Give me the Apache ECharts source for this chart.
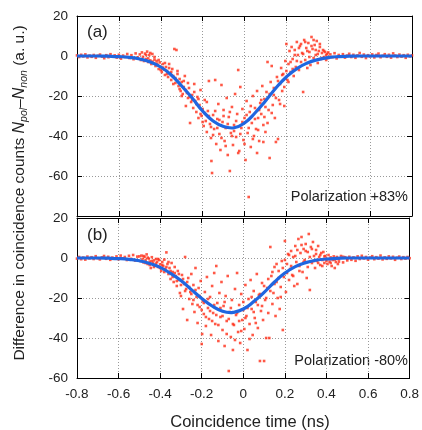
<!DOCTYPE html>
<html>
<head>
<meta charset="utf-8">
<script src="https://cdn.jsdelivr.net/npm/echarts@6/dist/echarts.min.js"></script>
<style>
    html, body { margin: 0; padding: 0; background: #fff; }
    #chart { width: 422px; height: 430px; }
</style>
</head>
<body>
<div id="chart"></div>
<script>
// x tick values (ns)
var timeTicks = [-0.8, -0.6, -0.4, -0.2, 0, 0.2, 0.4, 0.6, 0.8];

// fitted curves
var fitA = [
    [-0.8, 0], [-0.75, 0], [-0.7, 0], [-0.65, -0.1], [-0.6, -0.3], [-0.55, -0.7], [-0.5, -1.5],
    [-0.45, -3.0], [-0.4, -5.5], [-0.35, -9.5], [-0.3, -15], [-0.25, -21], [-0.2, -27.5],
    [-0.15, -32.5], [-0.1, -35.3], [-0.06, -36], [-0.05, -35.9], [0, -33.5], [0.05, -28.5],
    [0.1, -22.5], [0.15, -16], [0.2, -10.5], [0.25, -6.3], [0.3, -3.5], [0.35, -1.8],
    [0.4, -0.8], [0.45, -0.3], [0.5, -0.1], [0.55, 0], [0.6, 0], [0.7, 0], [0.8, 0]
];
var fitB = [
    [-0.8, 0], [-0.75, 0], [-0.7, 0], [-0.65, -0.1], [-0.6, -0.3], [-0.55, -0.7], [-0.5, -1.4],
    [-0.45, -2.7], [-0.4, -4.7], [-0.35, -7.7], [-0.3, -11.3], [-0.25, -15.8], [-0.2, -20.2],
    [-0.15, -24], [-0.1, -26.6], [-0.06, -27.3], [-0.05, -27.2], [0, -25.5], [0.05, -21.8],
    [0.1, -17.2], [0.15, -12], [0.2, -7.5], [0.25, -4.3], [0.3, -2.3], [0.35, -1.1],
    [0.4, -0.5], [0.45, -0.2], [0.5, 0], [0.6, 0], [0.7, 0], [0.8, 0]
];

// measured points, panel (a)
var pointsA = [
    [-0.80,0.3],[-0.79,-0.5],[-0.78,0.6],[-0.77,-0.2],[-0.76,0.8],[-0.75,-0.7],[-0.74,0.2],[-0.73,-0.4],
    [-0.72,0.5],[-0.71,-0.9],[-0.70,0.1],[-0.69,0.7],[-0.68,-0.3],[-0.67,-1.1],[-0.66,0.4],[-0.65,-0.6],
    [-0.64,0.9],[-0.63,-0.2],[-0.62,0.3],[-0.61,-0.8],[-0.60,0.6],[-0.59,-1.3],[-0.58,0.2],[-0.57,-0.5],
    [-0.56,1.0],[-0.55,-1.0],[-0.54,0.4],[-0.53,-1.6],[-0.52,1.3],[-0.51,-0.7],[-0.50,0.8],[-0.495,-2.0],
    [-0.49,1.8],[-0.485,-0.4],[-0.48,-2.5],[-0.475,1.2],[-0.47,-1.5],[-0.465,2.2],[-0.46,-3.0],[-0.455,0.5],
    [-0.45,-2.2],[-0.445,-4.0],[-0.44,1.0],[-0.435,-3.5],[-0.43,-1.8],[-0.425,-5.0],[-0.42,-2.5],[-0.415,-4.5],
    [-0.41,-6.5],[-0.405,-3.2],[-0.40,-5.5],[-0.395,-8.0],[-0.39,-4.0],[-0.385,-6.8],[-0.38,-9.5],[-0.375,-5.5],
    [-0.37,-7.5],[-0.365,-10.5],[-0.36,-4.0],[-0.355,-8.8],[-0.35,-12.0],[-0.345,-6.5],[-0.34,-10.0],[-0.335,3.5],
    [-0.33,-13.5],[-0.325,3.0],[-0.32,-9.0],[-0.315,-15.0],[-0.31,-11.5],[-0.305,-17.5],[-0.30,-13.0],[-0.295,-19.0],
    [-0.29,-15.5],[-0.285,-10.0],[-0.28,-25.0],[-0.275,-18.5],[-0.27,-21.0],[-0.265,-16.0],[-0.26,-33.5],[-0.255,-23.0],
    [-0.25,-19.5],[-0.245,-26.0],[-0.24,-14.0],[-0.235,-22.5],[-0.23,-28.0],[-0.225,-20.5],[-0.22,-31.0],[-0.215,-24.5],
    [-0.21,-17.0],[-0.205,-30.0],[-0.20,-26.5],[-0.195,-35.0],[-0.19,-22.0],[-0.185,-32.5],[-0.18,-38.0],[-0.175,-27.5],
    [-0.17,-12.5],[-0.165,-34.0],[-0.16,-41.0],[-0.158,-52.5],[-0.155,-58.5],[-0.15,-29.5],[-0.145,-36.5],[-0.14,-12.0],
    [-0.135,-44.0],[-0.13,-31.5],[-0.125,-24.0],[-0.12,-39.0],[-0.115,-47.0],[-0.11,-14.5],[-0.105,-33.0],[-0.10,-27.0],
    [-0.095,-42.5],[-0.09,-36.0],[-0.085,-21.0],[-0.08,-49.5],[-0.075,-30.5],[-0.07,-57.5],[-0.065,-38.5],[-0.06,-25.5],
    [-0.055,-44.5],[-0.05,-34.5],[-0.045,-19.0],[-0.04,-40.5],[-0.035,-29.0],[-0.03,-7.0],[-0.025,-47.5],[-0.02,-15.5],
    [-0.015,-36.0],[-0.01,-26.5],[-0.005,-42.0],[0.00,-31.0],[0.005,-52.0],[0.01,-22.5],[0.015,-38.5],[0.02,-70.5],
    [0.025,-28.0],[0.03,-45.5],[0.035,-33.5],[0.04,-20.0],[0.045,-40.0],[0.05,-26.0],[0.055,-36.5],[0.06,-17.5],
    [0.065,-31.0],[0.07,-42.5],[0.075,-23.5],[0.08,-29.0],[0.085,-15.0],[0.09,-34.5],[0.095,-21.5],[0.10,-38.0],
    [0.105,-18.0],[0.11,-3.0],[0.115,-27.0],[0.12,-51.0],[0.125,-13.0],[0.13,-5.0],[0.135,-24.5],[0.14,-19.5],
    [0.145,-31.0],[0.15,-43.0],[0.155,-10.5],[0.16,-41.5],[0.165,-22.0],[0.17,-14.0],[0.175,-6.0],[0.18,-17.5],
    [0.185,-9.0],[0.19,-25.0],[0.195,-2.5],[0.20,6.0],[0.205,-12.0],[0.21,-4.0],[0.215,2.5],[0.22,-8.0],
    [0.225,4.5],[0.23,-1.5],[0.235,-10.0],[0.24,3.0],[0.245,-5.5],[0.25,7.0],[0.255,0.5],[0.26,-7.0],
    [0.265,5.0],[0.27,-3.0],[0.275,1.5],[0.28,-18.0],[0.285,8.0],[0.29,-2.0],[0.295,4.0],[0.30,-6.0],
    [0.305,6.5],[0.31,2.0],[0.315,-4.5],[0.32,9.5],[0.325,3.5],[0.33,-1.0],[0.335,5.5],[0.34,0.5],
    [0.345,7.5],[0.35,-3.5],[0.355,2.5],[0.36,4.5],[0.365,-1.5],[0.37,1.5],[0.375,3.0],[0.38,-0.5],
    [0.385,2.0],[0.39,-2.0],[0.395,1.0],[0.40,-1.0],[0.41,0.8],[0.42,-0.6],[0.43,1.4],[0.44,-1.2],
    [0.45,0.5],[0.46,-0.3],[0.47,0.9],[0.48,-0.8],[0.49,0.2],[0.50,1.1],[0.51,-0.5],[0.52,0.6],
    [0.53,-0.9],[0.54,0.3],[0.55,1.5],[0.56,-0.4],[0.57,0.7],[0.58,-1.0],[0.59,0.4],[0.60,-0.2],
    [0.61,0.8],[0.62,-0.7],[0.63,0.5],[0.64,1.2],[0.65,-0.6],[0.66,0.1],[0.67,0.9],[0.68,-0.4],
    [0.69,0.6],[0.70,-0.8],[0.71,1.3],[0.72,0.2],[0.73,-0.5],[0.74,0.7],[0.75,-0.3],[0.76,0.4],
    [0.77,-0.9],[0.78,0.6],[0.79,-0.2],[0.80,0.3],
    [-0.47,0.5],[-0.46,-1.2],[-0.45,1.5],[-0.44,-2.8],[-0.43,-0.5],[-0.42,-3.8],[-0.41,-2.0],[-0.40,-7.0],
    [-0.39,-5.8],[-0.38,-3.5],[-0.37,-9.0],[-0.36,-6.0],[-0.35,-8.0],[-0.34,-14.0],[-0.33,-11.0],[-0.32,-7.5],
    [-0.31,-16.5],[-0.30,-20.0],[-0.29,-12.5],[-0.28,-17.0],[-0.27,-13.5],[-0.26,-20.5],[-0.25,-22.0],[-0.24,-18.0],
    [-0.23,-24.0],[-0.22,-21.5],[-0.21,-29.0],[-0.20,-33.0],[-0.19,-28.5],[-0.18,-23.0],[-0.17,-30.0],[-0.16,-35.5],
    [-0.15,-39.5],[-0.14,-27.5],[-0.13,-36.0],[-0.12,-32.0],[-0.11,-41.0],[-0.10,-30.0],[-0.09,-45.0],[-0.08,-34.0],
    [-0.07,-28.0],[-0.06,-40.0],[-0.05,-37.5],[-0.04,-32.5],[-0.03,-48.5],[-0.02,-39.0],[-0.01,-33.0],[0.00,-44.0],
    [0.01,-29.5],[0.02,-36.0],[0.03,-25.0],[0.04,-41.5],[0.05,-31.5],[0.06,-48.5],[0.065,-37.0],[0.07,-27.0],
    [0.08,-22.0],[0.09,-43.0],[0.095,-30.5],[0.10,-25.5],[0.11,-33.5],[0.12,-19.0],[0.13,-28.5],[0.14,-16.0],
    [0.15,-21.0],[0.16,-12.5],[0.17,-24.0],[0.18,-9.5],[0.19,-15.5],[0.20,-7.5],[0.21,-13.0],[0.22,-3.0],
    [0.23,-6.5],[0.24,0.5],[0.25,-2.5],[0.26,4.0],[0.27,6.0],[0.28,1.0],[0.29,7.0],[0.30,2.5],
    [0.31,-0.5],[0.32,5.0],[0.33,8.0],[0.34,3.0],[0.35,1.0],[0.36,6.0],[0.37,-1.0],[0.38,2.5],
    [0.39,0.5],[0.40,1.8]
];

// measured points, panel (b)
var pointsB = [
    [-0.80,-0.3],[-0.79,0.5],[-0.78,-0.6],[-0.77,0.2],[-0.76,-0.8],[-0.75,0.7],[-0.74,-0.2],[-0.73,0.4],
    [-0.72,-0.5],[-0.71,0.9],[-0.70,-0.1],[-0.69,-0.7],[-0.68,0.3],[-0.67,1.0],[-0.66,-0.4],[-0.65,0.6],
    [-0.64,-0.9],[-0.63,0.2],[-0.62,-0.3],[-0.61,0.8],[-0.60,-0.6],[-0.59,1.2],[-0.58,-0.2],[-0.57,0.5],
    [-0.56,-1.0],[-0.55,1.1],[-0.54,-0.4],[-0.53,1.5],[-0.52,-1.3],[-0.51,0.7],
    [-0.50,0.8],[-0.495,-1.5],[-0.49,1.2],[-0.485,-0.5],[-0.48,-2.2],[-0.475,0.6],[-0.47,-1.0],[-0.465,1.8],
    [-0.46,-3.0],[-0.455,-0.3],[-0.45,-1.8],[-0.445,-5.0],[-0.44,0.4],[-0.435,-2.5],[-0.43,-1.2],[-0.425,-3.8],
    [-0.42,-0.5],[-0.415,-2.0],[-0.41,-4.5],[-0.405,-1.0],[-0.40,-3.2],[-0.395,-6.5],[-0.39,-2.0],[-0.385,-4.0],
    [-0.38,-0.8],[-0.375,-5.5],[-0.37,2.8],[-0.365,-3.0],[-0.36,-8.0],[-0.355,-5.0],[-0.35,-10.5],[-0.345,-2.5],
    [-0.34,-7.0],[-0.335,-12.0],[-0.33,-4.5],[-0.325,-9.0],[-0.32,-14.0],[-0.315,-6.5],[-0.31,-11.0],[-0.305,-17.5],
    [-0.30,-19.0],[-0.295,-8.5],[-0.29,-25.5],[-0.285,-13.0],[-0.28,0.5],[-0.275,-15.5],[-0.27,-31.0],[-0.265,-10.0],
    [-0.26,-20.5],[-0.255,-17.0],[-0.25,-8.0],[-0.245,-23.0],[-0.24,-13.5],[-0.235,-27.0],[-0.23,-5.0],[-0.225,-19.5],
    [-0.22,-32.5],[-0.215,-15.0],[-0.21,-24.5],[-0.205,-11.5],[-0.20,-43.0],[-0.198,-38.0],[-0.195,-21.5],[-0.19,-28.0],
    [-0.185,-17.0],[-0.18,-34.0],[-0.175,-9.5],[-0.17,-25.0],[-0.165,-30.5],[-0.16,-19.5],[-0.155,-38.5],[-0.15,-14.0],
    [-0.145,-27.5],[-0.14,-7.5],[-0.135,-33.0],[-0.13,-4.0],[-0.125,-22.5],[-0.12,-41.5],[-0.115,-17.5],[-0.11,-29.5],
    [-0.105,-12.0],[-0.10,-36.0],[-0.095,-24.0],[-0.09,-44.0],[-0.085,-19.0],[-0.08,-31.5],[-0.075,-9.0],[-0.07,-56.5],
    [-0.065,-27.0],[-0.06,-39.5],[-0.055,-21.0],[-0.05,-46.0],[-0.045,-33.5],[-0.04,-15.5],[-0.035,-28.5],[-0.03,-7.5],
    [-0.025,-37.0],[-0.02,-23.5],[-0.015,-42.5],[-0.01,-18.0],[-0.005,-31.0],[0.00,-26.0],[0.005,-35.5],[0.01,-13.5],
    [0.015,-29.0],[0.02,-46.0],[0.025,-20.5],[0.03,-33.0],[0.035,-11.0],[0.04,-25.5],[0.045,-38.5],[0.05,-16.5],
    [0.055,-30.0],[0.06,-22.0],[0.065,-8.0],[0.07,-35.0],[0.075,-18.5],[0.08,-51.5],[0.085,-26.5],[0.09,-12.5],
    [0.095,-31.0],[0.10,-51.5],[0.105,-21.0],[0.11,-40.0],[0.115,-15.0],[0.12,-27.5],[0.125,-40.0],[0.13,5.5],
    [0.135,-9.0],[0.14,-23.0],[0.145,-17.5],[0.15,-4.5],[0.155,-29.0],[0.16,-12.0],[0.165,-20.0],[0.17,-6.5],
    [0.175,-25.5],[0.18,-14.5],[0.185,-1.5],[0.19,-36.0],[0.195,-9.5],[0.20,8.5],[0.205,-17.0],[0.21,-3.0],
    [0.215,2.0],[0.22,-11.0],[0.225,-5.5],[0.23,3.5],[0.235,-8.5],[0.24,0.5],[0.245,-14.0],[0.25,6.0],
    [0.255,-2.0],[0.26,-13.0],[0.265,9.5],[0.27,-4.0],[0.275,2.5],[0.28,10.5],[0.285,-7.0],[0.29,4.5],
    [0.295,-1.0],[0.30,7.0],[0.305,-10.0],[0.31,3.0],[0.315,12.0],[0.32,-16.0],[0.325,5.5],[0.33,-2.5],
    [0.335,8.0],[0.34,1.0],[0.345,-5.0],[0.35,4.0],[0.355,-1.5],[0.36,6.0],[0.365,0.5],[0.37,-3.5],
    [0.375,2.5],[0.38,-1.0],[0.385,3.0],[0.39,-2.5],[0.395,1.0],[0.40,-0.5],[0.405,-3.0],[0.41,1.5],
    [0.415,-1.8],[0.42,0.3],[0.425,-4.0],[0.43,-1.0],[0.435,0.8],[0.44,-5.0],[0.445,-2.0],[0.45,0.5],
    [0.455,-3.0],[0.46,-0.6],[0.47,1.0],[0.48,-2.2],[0.49,0.4],[0.50,-1.2],[0.51,0.6],[0.52,-0.9],
    [0.53,0.3],[0.54,-1.4],[0.55,0.8],[0.56,-0.5],[0.57,1.1],[0.58,-0.2],[0.59,0.5],[0.60,-0.8],
    [0.61,0.2],[0.62,0.9],[0.63,-0.6],[0.64,0.4],[0.65,-0.3],[0.66,1.2],[0.67,-0.7],[0.68,0.3],
    [0.69,-0.4],[0.70,0.8],[0.71,-0.2],[0.72,0.6],[0.73,-0.9],[0.74,0.1],[0.75,0.7],[0.76,-0.5],
    [0.77,0.4],[0.78,-0.3],[0.79,0.5],[0.80,-0.1],
    [-0.48,1.0],[-0.47,-2.5],[-0.46,0.2],[-0.45,-3.5],[-0.44,-1.5],[-0.43,-4.5],[-0.42,-2.8],[-0.41,-0.5],
    [-0.40,-5.0],[-0.39,-3.5],[-0.38,-7.0],[-0.37,-4.5],[-0.36,-2.0],[-0.35,-6.5],[-0.34,-9.5],[-0.33,-7.5],
    [-0.32,-11.5],[-0.31,-8.0],[-0.30,-13.5],[-0.29,-10.5],[-0.28,-16.5],[-0.27,-12.0],[-0.26,-14.5],[-0.25,-18.0],
    [-0.24,-21.0],[-0.23,-16.0],[-0.22,-23.5],[-0.21,-19.0],[-0.20,-26.0],[-0.19,-22.5],[-0.18,-29.5],[-0.17,-20.5],
    [-0.16,-26.5],[-0.15,-31.5],[-0.14,-23.5],[-0.13,-28.5],[-0.12,-33.5],[-0.11,-25.0],[-0.10,-29.0],[-0.09,-22.0],
    [-0.08,-38.0],[-0.07,-30.5],[-0.06,-25.0],[-0.05,-33.0],[-0.04,-41.0],[-0.03,-27.5],[-0.02,-31.5],[-0.01,-36.5],
    [0.00,-22.0],[0.01,-30.0],[0.02,-25.0],[0.03,-40.5],[0.04,-19.5],[0.05,-27.0],[0.06,-32.5],[0.07,-23.5],
    [0.08,-18.0],[0.09,-24.0],[0.10,-14.0],[0.11,-20.0],[0.12,-10.5],[0.13,-16.5],[0.14,-7.0],[0.15,-13.0],
    [0.16,-3.0],[0.17,-10.0],[0.18,-19.5],[0.19,-5.0],[0.20,-1.0],[0.21,-7.5],[0.22,1.5],[0.23,-4.0],
    [0.24,-9.0],[0.25,1.0],[0.26,4.0],[0.27,-6.5],[0.28,6.5],[0.29,-2.0],[0.30,3.5],[0.31,-4.5],
    [0.32,0.5],[0.33,4.5],[0.34,-1.5],[0.35,2.0],[0.36,-2.5],[0.37,1.5],[0.38,-4.0],[0.39,0.8],
    [0.40,-1.5],[0.42,-2.5],[0.44,-0.8],[0.46,-1.8],[0.48,0.6],[0.50,-0.4]
];

var FONT = "Liberation Sans, Arial, sans-serif";
var RED = "#ff2e18";
var BLUE = "#1f66e0";

function xAxisFor(grid, pos, labels) {
    return {
        type: "value", gridIndex: grid, position: pos,
        min: timeTicks[0], max: timeTicks[timeTicks.length - 1], interval: 0.2,
        axisLine: { show: true, onZero: false, lineStyle: { color: "#000", width: 1 } },
        axisTick: { show: true, inside: true, length: 5, lineStyle: { color: "#000" } },
        axisLabel: {
            show: labels, color: "#222", fontSize: 13.5, fontFamily: FONT, margin: 9,
            formatter: function(v) { return String(+v.toFixed(1)); }
        },
        splitLine: { show: pos === "bottom", lineStyle: { color: "#999", type: [1, 2], width: 1 } }
    };
}

function yAxisFor(grid, pos, min, max, labels) {
    return {
        type: "value", gridIndex: grid, position: pos,
        min: min, max: max, interval: 20,
        axisLine: { show: true, onZero: false, lineStyle: { color: "#000", width: 1 } },
        axisTick: { show: true, inside: true, length: 5, lineStyle: { color: "#000" } },
        axisLabel: {
            show: labels, color: "#222", fontSize: 13.5, fontFamily: FONT, margin: 9,
            formatter: function(v) { return v === -80 ? "" : String(v); }
        },
        splitLine: { show: pos === "left", lineStyle: { color: "#999", type: [1, 2], width: 1 } }
    };
}

var chart = echarts.init(document.getElementById("chart"));
var option = {
    animation: false,
    backgroundColor: "#fff",
    grid: [
        { left: 77, right: 10, top: 16, height: 200 },
        { left: 77, right: 10, top: 218, height: 160 }
    ],
    xAxis: [
        xAxisFor(0, "bottom", false), xAxisFor(0, "top", false),
        xAxisFor(1, "bottom", true), xAxisFor(1, "top", false)
    ],
    yAxis: [
        yAxisFor(0, "left", -80, 20, true), yAxisFor(0, "right", -80, 20, false),
        yAxisFor(1, "left", -60, 20, true), yAxisFor(1, "right", -60, 20, false)
    ],
    series: [{
        type: "scatter", xAxisIndex: 0, yAxisIndex: 0, data: pointsA,
        symbol: "rect", symbolSize: 2.6, itemStyle: { color: RED }, z: 2
    }, {
        type: "line", xAxisIndex: 0, yAxisIndex: 0, data: fitA, smooth: true,
        showSymbol: false, lineStyle: { color: BLUE, width: 3.2 }, z: 3
    }, {
        type: "scatter", xAxisIndex: 2, yAxisIndex: 2, data: pointsB,
        symbol: "rect", symbolSize: 2.6, itemStyle: { color: RED }, z: 2
    }, {
        type: "line", xAxisIndex: 2, yAxisIndex: 2, data: fitB, smooth: true,
        showSymbol: false, lineStyle: { color: BLUE, width: 3.2 }, z: 3
    }],
    graphic: [{
        type: "text", left: 87, top: 24,
        style: { text: "(a)", font: "17px " + FONT, fill: "#222" }
    }, {
        type: "text", left: 87, top: 227,
        style: { text: "(b)", font: "17px " + FONT, fill: "#222" }
    }, {
        type: "text", right: 14, top: 189,
        style: { text: "Polarization +83%", font: "14.5px " + FONT, fill: "#222" }
    }, {
        type: "text", right: 14, top: 353,
        style: { text: "Polarization -80%", font: "14.5px " + FONT, fill: "#222" }
    }, {
        type: "text", x: 250, y: 422,
        style: {
            text: "Coincidence time (ns)", font: "16.5px " + FONT, fill: "#222",
            align: "center", verticalAlign: "middle"
        }
    }, {
        type: "text", x: 20, y: 193, rotation: Math.PI / 2,
        style: {
            text: "Difference in coincidence counts {i|N}{s|pol}{m|–}{i|N}{s|non} (a. u.)",
            font: "15.5px " + FONT, fill: "#222", align: "center", verticalAlign: "middle",
            rich: {
                i: { fontSize: 16, fontStyle: "italic", fontFamily: FONT, fill: "#222", lineHeight: 19, verticalAlign: "middle" },
                s: { fontSize: 10.5, fontStyle: "italic", fontFamily: FONT, fill: "#222", lineHeight: 19, verticalAlign: "bottom" },
                m: { fontSize: 15.5, fontFamily: FONT, fill: "#222", lineHeight: 19 }
            }
        }
    }]
};
chart.setOption(option);
</script>
</body>
</html>
